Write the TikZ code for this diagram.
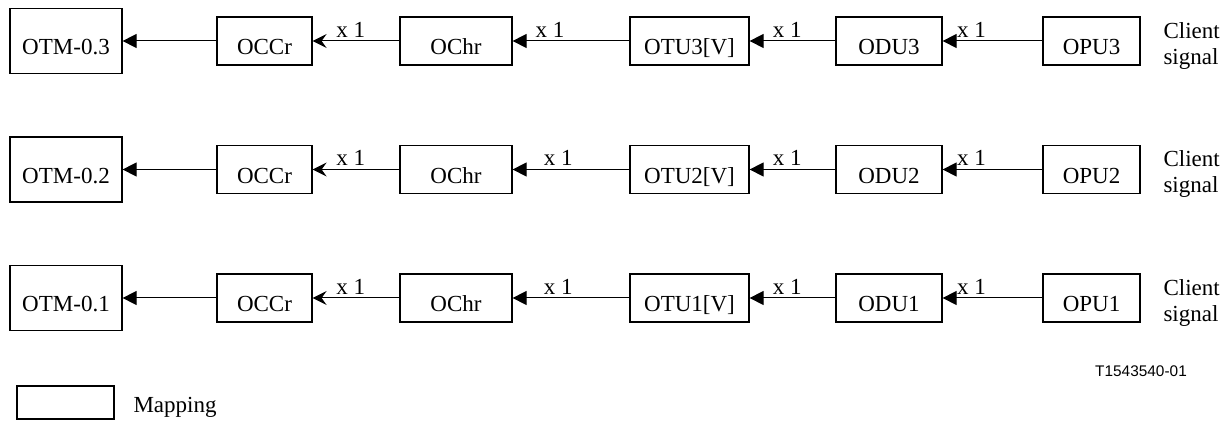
\documentclass[tikz,border=0pt]{standalone}
\usepackage{fontspec}
\setmainfont{Liberation Serif}
\newfontfamily\tagfont{Liberation Sans}
\usetikzlibrary{arrows.meta}

\begin{document}
\begin{tikzpicture}[x=0.5pt, y=-0.5pt, line width=0.5pt, >={Triangle[length=7pt,width=7pt]},
box/.style={rectangle,draw,line width=0.6pt,inner sep=0pt,minimum height=24pt,text height=14pt,text depth=0pt,font=\fontsize{11.5}{13}\selectfont},
otm node/.style={box,minimum width=56pt,minimum height=32.5pt},
occr node/.style={box,minimum width=47.5pt},
ochr node/.style={box,minimum width=56pt},
otu node/.style={box,minimum width=59.5pt},
odu node/.style={box,minimum width=53pt},
opu node/.style={box,minimum width=48.5pt},
mult/.style={above,inner sep=1.5pt,font=\fontsize{11.5}{13}\selectfont},
side/.style={anchor=west,align=left,inner sep=0pt,font=\fontsize{11.5}{13}\selectfont},
occr arrow/.style={-{Stealth[length=7pt,width=7pt,inset=2.5pt]}}]
\useasboundingbox (0,0) rectangle (1229,421);
\begin{scope}
\node[otm node] (otm3) at (66,41) {OTM-0.3};
\node[occr node] (occr3) at (264.5,41) {OCCr};
\node[ochr node] (ochr3) at (456,41) {OChr};
\node[otu node] (otu3) at (689.5,41) {OTU3[V]};
\node[odu node] (odu3) at (889,41) {ODU3};
\node[opu node] (opu3) at (1091.5,41) {OPU3};
\node[side] (client3) at (1163,46) {Client\\signal};

\node[otm node] (otm2) at (66,169.5) {OTM-0.2};
\node[occr node] (occr2) at (264.5,169.5) {OCCr};
\node[ochr node] (ochr2) at (456,169.5) {OChr};
\node[otu node] (otu2) at (689.5,169.5) {OTU2[V]};
\node[odu node] (odu2) at (889,169.5) {ODU2};
\node[opu node] (opu2) at (1091.5,169.5) {OPU2};
\node[side] (client2) at (1163,174.5) {Client\\signal};

\node[otm node] (otm1) at (66,298) {OTM-0.1};
\node[occr node] (occr1) at (264.5,298) {OCCr};
\node[ochr node] (ochr1) at (456,298) {OChr};
\node[otu node] (otu1) at (689.5,298) {OTU1[V]};
\node[odu node] (odu1) at (889,298) {ODU1};
\node[opu node] (opu1) at (1091.5,298) {OPU1};
\node[side] (client1) at (1163,303) {Client\\signal};
\end{scope}
\begin{scope}
\draw (occr3) edge[->] (otm3);
\draw (ochr3) edge[occr arrow] node[mult,pos=0.56] (m3a) {x 1} (occr3);
\draw (otu3) edge[->] node[mult,pos=0.68] (m3b) {x 1} (ochr3);
\draw (odu3) edge[->] node[mult,pos=0.56] (m3c) {x 1} (otu3);
\draw (opu3) edge[->] node[mult,pos=0.71] (m3d) {x 1} (odu3);

\draw (occr2) edge[->] (otm2);
\draw (ochr2) edge[occr arrow] node[mult,pos=0.56] (m2a) {x 1} (occr2);
\draw (otu2) edge[->] node[mult,pos=0.61] (m2b) {x 1} (ochr2);
\draw (odu2) edge[->] node[mult,pos=0.56] (m2c) {x 1} (otu2);
\draw (opu2) edge[->] node[mult,pos=0.71] (m2d) {x 1} (odu2);

\draw (occr1) edge[->] (otm1);
\draw (ochr1) edge[occr arrow] node[mult,pos=0.56] (m1a) {x 1} (occr1);
\draw (otu1) edge[->] node[mult,pos=0.61] (m1b) {x 1} (ochr1);
\draw (odu1) edge[->] node[mult,pos=0.56] (m1c) {x 1} (otu1);
\draw (opu1) edge[->] node[mult,pos=0.71] (m1d) {x 1} (odu1);
\end{scope}
%legend
\node[font=\tagfont\fontsize{7.7}{9}\selectfont] (tnum) at (1141,371) {T1543540-01};
\node[box,minimum width=48.5pt,minimum height=16.5pt] (legend) at (65.5,402.5) {};
\node[anchor=base west,inner sep=0pt,font=\fontsize{11.5}{13}\selectfont] (maptext) at (133,413) {Mapping};
\end{tikzpicture}
\end{document}
